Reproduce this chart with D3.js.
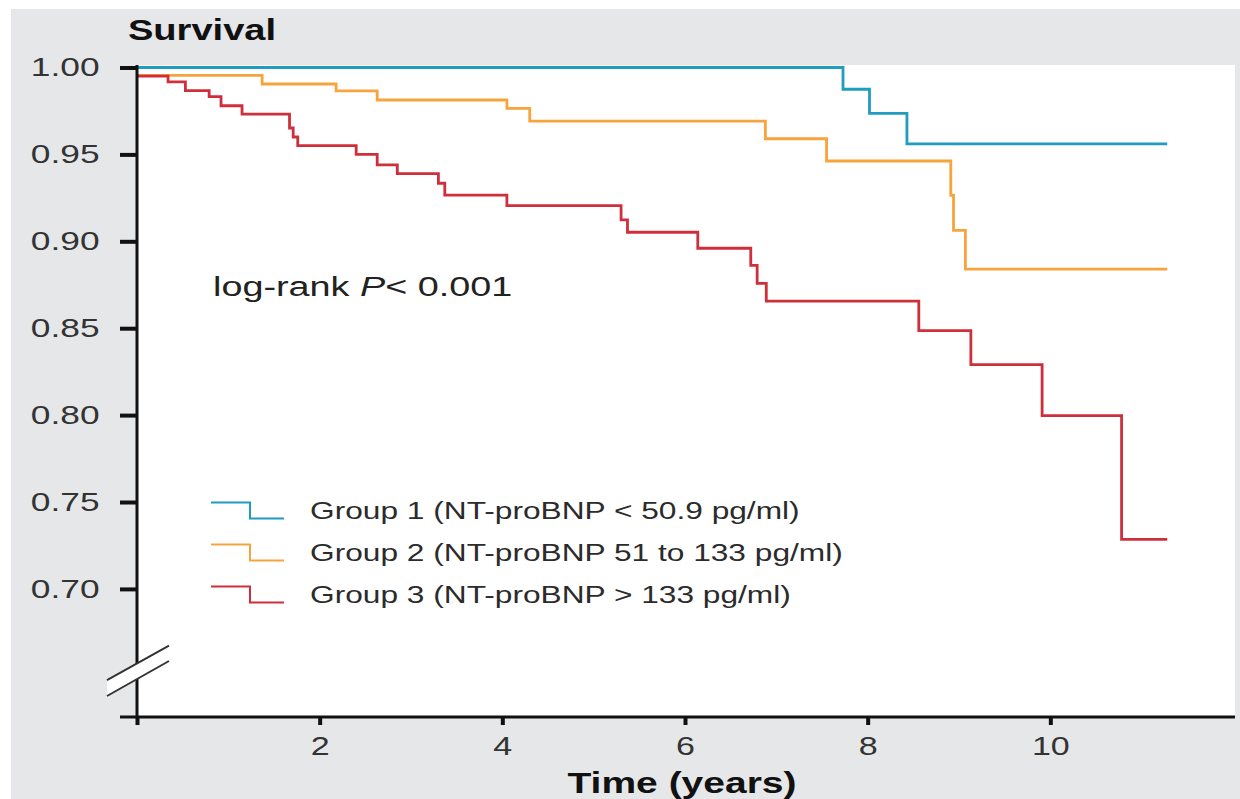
<!DOCTYPE html>
<html>
<head>
<meta charset="utf-8">
<script src="https://cdn.jsdelivr.net/npm/d3@7"></script>
<style>
  body { margin: 0; background: #fff; }
  text { font-family: "Liberation Sans", Arial, sans-serif; }
</style>
</head>
<body>
<svg width="1240" height="799"></svg>
<script>
// Kaplan-Meier steps: time (years) and survival after each drop
var group1Times = [0, 7.73, 8.02, 8.43, 11.28];
var group1Surv  = [1.0, 0.9875, 0.9736, 0.956, 0.956];

var group2Times = [0, 1.37, 2.18, 2.63, 4.05, 4.30, 6.88, 7.55, 8.91, 8.94, 9.07, 11.28];
var group2Surv  = [0.9955, 0.9905, 0.9865, 0.9813, 0.9765, 0.9692, 0.959, 0.9462, 0.9265, 0.9063, 0.884, 0.884];

var group3Times = [0, 0.34, 0.53, 0.79, 0.92, 1.15, 1.67, 1.71, 1.76, 2.40, 2.63, 2.85, 3.30, 3.37,
                   4.05, 5.30, 5.37, 6.14, 6.72, 6.79, 6.89, 8.56, 9.13, 9.91, 10.78, 11.28];
var group3Surv  = [0.995, 0.9917, 0.9867, 0.9832, 0.978, 0.9732, 0.9652, 0.960, 0.955, 0.950, 0.944, 0.9389, 0.9334, 0.9266,
                   0.9205, 0.9123, 0.9052, 0.896, 0.8862, 0.8758, 0.8656, 0.8486, 0.829, 0.7997, 0.7285, 0.7285];

var groupNames = ["Group 1 (NT-proBNP < 50.9 pg/ml)",
                  "Group 2 (NT-proBNP 51 to 133 pg/ml)",
                  "Group 3 (NT-proBNP > 133 pg/ml)"];
var groupColors = ["#1f9cc0", "#f8a33c", "#cf2f3b"];

var yTicks = [0.70, 0.75, 0.80, 0.85, 0.90, 0.95, 1.00];
var xTicks = [2, 4, 6, 8, 10];

var svg = d3.select("svg");
var sx = 1.31; // the picture is stretched sideways

var x = d3.scaleLinear().domain([0, 12]).range([137, 1233]);
var y = d3.scaleLinear().domain([0.6263, 1.0]).range([717, 67.5]);

// backgrounds
svg.append("rect").attr("x", 11).attr("y", 9).attr("width", 1229).attr("height", 790).attr("fill", "#e6e7e9");
svg.append("rect").attr("x", 137).attr("y", 65).attr("width", 1098).attr("height", 652).attr("fill", "#fff");

// curves
var series = [
  {times: group1Times, surv: group1Surv},
  {times: group2Times, surv: group2Surv},
  {times: group3Times, surv: group3Surv}
];

var line = d3.line()
    .x(function(d) { return x(d[0]); })
    .y(function(d) { return y(d[1]); })
    .curve(d3.curveStepAfter);

svg.selectAll(".km")
  .data(series)
  .enter().append("path")
    .attr("class", "km")
    .attr("fill", "none")
    .attr("stroke", function(d, i) { return groupColors[i]; })
    .attr("stroke-width", 2.8)
    .attr("d", function(d) { return line(d.times.map(function(t, j) { return [t, d.surv[j]]; })); });

// axes
var yAxis = svg.append("g")
    .attr("transform", "translate(137,0)")
    .call(d3.axisLeft(y).tickValues(yTicks).tickFormat(d3.format(".2f")).tickSize(17).tickSizeOuter(0));
yAxis.select(".domain").remove();
yAxis.selectAll(".tick line").attr("stroke", "#111").attr("stroke-width", 4);
yAxis.selectAll(".tick text")
    .attr("x", -27.5)
    .attr("transform", "scale(1.36,1)")
    .attr("fill", "#333")
    .style("font-size", "26px");

var xAxis = svg.append("g")
    .attr("transform", "translate(0,717)")
    .call(d3.axisBottom(x).tickValues([0].concat(xTicks)).tickSize(8).tickPadding(12).tickSizeOuter(0));
xAxis.select(".domain").remove();
xAxis.selectAll(".tick line").attr("stroke", "#111").attr("stroke-width", 4);
xAxis.selectAll(".tick text")
    .text(function(d) { return d === 0 ? "" : d; })
    .attr("transform", "scale(" + sx + ",1)")
    .attr("fill", "#333")
    .style("font-size", "26px");

svg.append("line").attr("x1", 137).attr("x2", 137).attr("y1", 65).attr("y2", 718.5)
    .attr("stroke", "#111").attr("stroke-width", 3);
svg.append("line").attr("x1", 120).attr("x2", 1235).attr("y1", 717).attr("y2", 717)
    .attr("stroke", "#111").attr("stroke-width", 3);

// axis break
svg.append("path")
    .attr("d", "M107,680 L169,645.7 L169,661 L107,696 Z")
    .attr("fill", "#fff");
svg.append("path")
    .attr("d", "M107,680 L169,645.7 M107,696 L169,661")
    .attr("stroke", "#333").attr("stroke-width", 2).attr("fill", "none");

// titles
svg.append("text")
    .attr("transform", "translate(202,40) scale(1.27,1)")
    .attr("text-anchor", "middle")
    .style("font-size", "30px").style("font-weight", "bold").attr("fill", "#111")
    .text("Survival");

svg.append("text")
    .attr("transform", "translate(682,793) scale(1.3,1)")
    .attr("text-anchor", "middle")
    .style("font-size", "30px").style("font-weight", "bold").attr("fill", "#111")
    .text("Time (years)");

var logrank = svg.append("text")
    .attr("transform", "translate(213,296) scale(1.35,1)")
    .style("font-size", "28px").attr("fill", "#222");
logrank.append("tspan").text("log-rank ");
logrank.append("tspan").style("font-style", "italic").text("P");
logrank.append("tspan").text("< 0.001");

// legend
var legend = svg.selectAll(".legend")
  .data(groupNames)
  .enter().append("g")
    .attr("class", "legend")
    .attr("transform", function(d, i) { return "translate(0," + (510.5 + i * 42) + ")"; });

legend.append("path")
    .attr("d", "M211,-8 H250 V8 H284")
    .attr("fill", "none")
    .attr("stroke", function(d, i) { return groupColors[i]; })
    .attr("stroke-width", 2);

legend.append("text")
    .attr("transform", "translate(310,0) scale(1.32,1)")
    .attr("dy", "0.35em")
    .style("font-size", "24px").attr("fill", "#2b2b2b")
    .text(function(d) { return d; });
</script>
</body>
</html>
